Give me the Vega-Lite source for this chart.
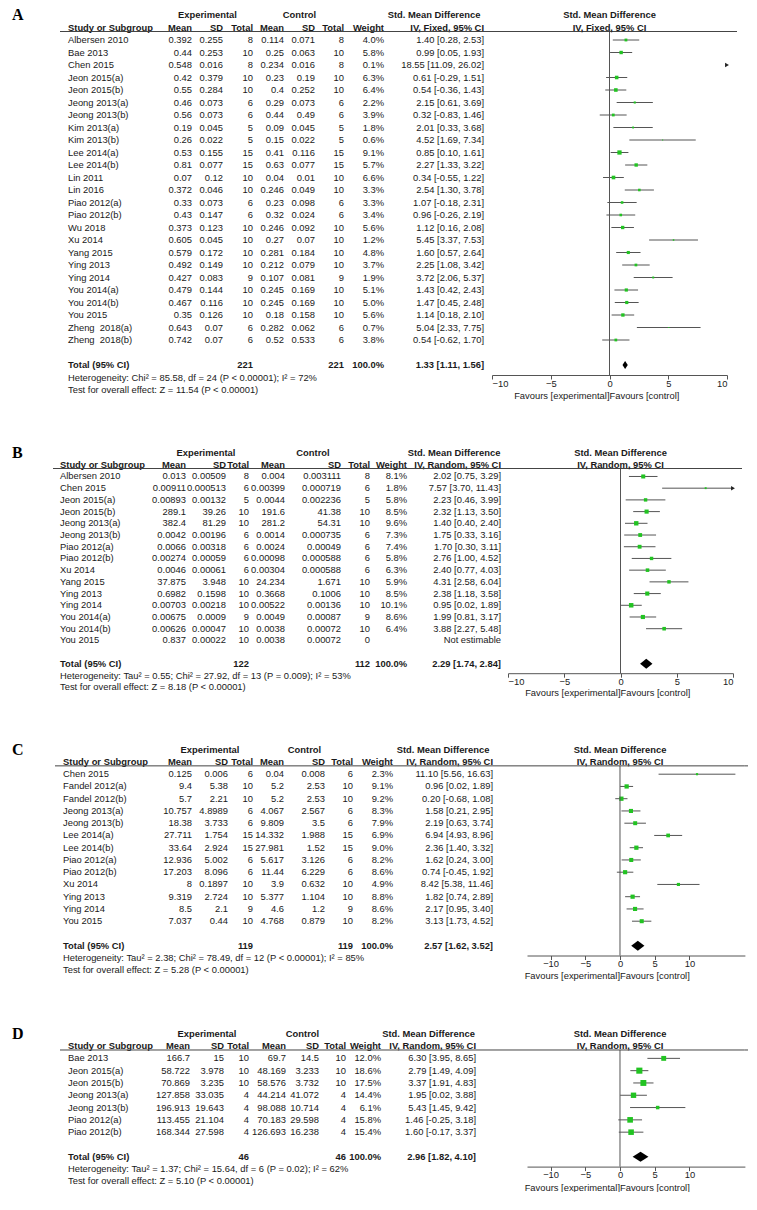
{
"$schema": "https://vega.github.io/schema/vega-lite/v6.json",
"background": "white",
"padding": {"left": 12, "top": 0, "right": 0, "bottom": 0},
"bounds": "full",
"spacing": 38,
"datasets": {
"one": [{}],
"A": [
{"row":-2,"kind":"group","lab":"A","sde":"Experimental","sdc":"Control","ci":"Std. Mean Difference","forest":"Std. Mean Difference"},
{"row":-1,"kind":"head","study":"Study or Subgroup","me":"Mean","sde":"SD","ne":"Total","mc":"Mean","sdc":"SD","nc":"Total","w":"Weight","ci":"IV, Fixed, 95% CI","forest":"IV, Fixed, 95% CI"},
{"row":0,"kind":"study","study":"Albersen 2010","me":0.392,"sde":0.255,"ne":8,"mc":0.114,"sdc":0.071,"nc":8,"w":0.040,"ci":"1.40 [0.28, 2.53]","est":1.40,"lo":0.28,"hi":2.53},
{"row":1,"kind":"study","study":"Bae 2013","me":0.44,"sde":0.253,"ne":10,"mc":0.25,"sdc":0.063,"nc":10,"w":0.058,"ci":"0.99 [0.05, 1.93]","est":0.99,"lo":0.05,"hi":1.93},
{"row":2,"kind":"study","study":"Chen 2015","me":0.548,"sde":0.016,"ne":8,"mc":0.234,"sdc":0.016,"nc":8,"w":0.001,"ci":"18.55 [11.09, 26.02]","est":18.55,"lo":11.09,"hi":26.02},
{"row":3,"kind":"study","study":"Jeon 2015(a)","me":0.42,"sde":0.379,"ne":10,"mc":0.23,"sdc":0.19,"nc":10,"w":0.063,"ci":"0.61 [-0.29, 1.51]","est":0.61,"lo":-0.29,"hi":1.51},
{"row":4,"kind":"study","study":"Jeon 2015(b)","me":0.55,"sde":0.284,"ne":10,"mc":0.4,"sdc":0.252,"nc":10,"w":0.064,"ci":"0.54 [-0.36, 1.43]","est":0.54,"lo":-0.36,"hi":1.43},
{"row":5,"kind":"study","study":"Jeong 2013(a)","me":0.46,"sde":0.073,"ne":6,"mc":0.29,"sdc":0.073,"nc":6,"w":0.022,"ci":"2.15 [0.61, 3.69]","est":2.15,"lo":0.61,"hi":3.69},
{"row":6,"kind":"study","study":"Jeong 2013(b)","me":0.56,"sde":0.073,"ne":6,"mc":0.44,"sdc":0.49,"nc":6,"w":0.039,"ci":"0.32 [-0.83, 1.46]","est":0.32,"lo":-0.83,"hi":1.46},
{"row":7,"kind":"study","study":"Kim 2013(a)","me":0.19,"sde":0.045,"ne":5,"mc":0.09,"sdc":0.045,"nc":5,"w":0.018,"ci":"2.01 [0.33, 3.68]","est":2.01,"lo":0.33,"hi":3.68},
{"row":8,"kind":"study","study":"Kim 2013(b)","me":0.26,"sde":0.022,"ne":5,"mc":0.15,"sdc":0.022,"nc":5,"w":0.006,"ci":"4.52 [1.69, 7.34]","est":4.52,"lo":1.69,"hi":7.34},
{"row":9,"kind":"study","study":"Lee 2014(a)","me":0.53,"sde":0.155,"ne":15,"mc":0.41,"sdc":0.116,"nc":15,"w":0.091,"ci":"0.85 [0.10, 1.61]","est":0.85,"lo":0.10,"hi":1.61},
{"row":10,"kind":"study","study":"Lee 2014(b)","me":0.81,"sde":0.077,"ne":15,"mc":0.63,"sdc":0.077,"nc":15,"w":0.057,"ci":"2.27 [1.33, 3.22]","est":2.27,"lo":1.33,"hi":3.22},
{"row":11,"kind":"study","study":"Lin 2011","me":0.07,"sde":0.12,"ne":10,"mc":0.04,"sdc":0.01,"nc":10,"w":0.066,"ci":"0.34 [-0.55, 1.22]","est":0.34,"lo":-0.55,"hi":1.22},
{"row":12,"kind":"study","study":"Lin 2016","me":0.372,"sde":0.046,"ne":10,"mc":0.246,"sdc":0.049,"nc":10,"w":0.033,"ci":"2.54 [1.30, 3.78]","est":2.54,"lo":1.30,"hi":3.78},
{"row":13,"kind":"study","study":"Piao 2012(a)","me":0.33,"sde":0.073,"ne":6,"mc":0.23,"sdc":0.098,"nc":6,"w":0.033,"ci":"1.07 [-0.18, 2.31]","est":1.07,"lo":-0.18,"hi":2.31},
{"row":14,"kind":"study","study":"Piao 2012(b)","me":0.43,"sde":0.147,"ne":6,"mc":0.32,"sdc":0.024,"nc":6,"w":0.034,"ci":"0.96 [-0.26, 2.19]","est":0.96,"lo":-0.26,"hi":2.19},
{"row":15,"kind":"study","study":"Wu 2018","me":0.373,"sde":0.123,"ne":10,"mc":0.246,"sdc":0.092,"nc":10,"w":0.056,"ci":"1.12 [0.16, 2.08]","est":1.12,"lo":0.16,"hi":2.08},
{"row":16,"kind":"study","study":"Xu 2014","me":0.605,"sde":0.045,"ne":10,"mc":0.27,"sdc":0.07,"nc":10,"w":0.012,"ci":"5.45 [3.37, 7.53]","est":5.45,"lo":3.37,"hi":7.53},
{"row":17,"kind":"study","study":"Yang 2015","me":0.579,"sde":0.172,"ne":10,"mc":0.281,"sdc":0.184,"nc":10,"w":0.048,"ci":"1.60 [0.57, 2.64]","est":1.60,"lo":0.57,"hi":2.64},
{"row":18,"kind":"study","study":"Ying 2013","me":0.492,"sde":0.149,"ne":10,"mc":0.212,"sdc":0.079,"nc":10,"w":0.037,"ci":"2.25 [1.08, 3.42]","est":2.25,"lo":1.08,"hi":3.42},
{"row":19,"kind":"study","study":"Ying 2014","me":0.427,"sde":0.083,"ne":9,"mc":0.107,"sdc":0.081,"nc":9,"w":0.019,"ci":"3.72 [2.06, 5.37]","est":3.72,"lo":2.06,"hi":5.37},
{"row":20,"kind":"study","study":"You 2014(a)","me":0.479,"sde":0.144,"ne":10,"mc":0.245,"sdc":0.169,"nc":10,"w":0.051,"ci":"1.43 [0.42, 2.43]","est":1.43,"lo":0.42,"hi":2.43},
{"row":21,"kind":"study","study":"You 2014(b)","me":0.467,"sde":0.116,"ne":10,"mc":0.245,"sdc":0.169,"nc":10,"w":0.050,"ci":"1.47 [0.45, 2.48]","est":1.47,"lo":0.45,"hi":2.48},
{"row":22,"kind":"study","study":"You 2015","me":0.35,"sde":0.126,"ne":10,"mc":0.18,"sdc":0.158,"nc":10,"w":0.056,"ci":"1.14 [0.18, 2.10]","est":1.14,"lo":0.18,"hi":2.10},
{"row":23,"kind":"study","study":"Zheng\u00a0\u00a02018(a)","me":0.643,"sde":0.07,"ne":6,"mc":0.282,"sdc":0.062,"nc":6,"w":0.007,"ci":"5.04 [2.33, 7.75]","est":5.04,"lo":2.33,"hi":7.75},
{"row":24,"kind":"study","study":"Zheng\u00a0\u00a02018(b)","me":0.742,"sde":0.07,"ne":6,"mc":0.52,"sdc":0.533,"nc":6,"w":0.038,"ci":"0.54 [-0.62, 1.70]","est":0.54,"lo":-0.62,"hi":1.70},
{"row":26,"kind":"total","study":"Total (95% CI)","ne":221,"nc":221,"w":1.0,"ci":"1.33 [1.11, 1.56]","est":1.33,"lo":1.11,"hi":1.56},
{"row":27,"kind":"note","study":"Heterogeneity: Chi² = 85.58, df = 24 (P < 0.00001); I² = 72%"},
{"row":28,"kind":"note","study":"Test for overall effect: Z = 11.54 (P < 0.00001)"}
],
"B": [
{"row":-2,"kind":"group","lab":"B","sde":"Experimental","sdc":"Control","ci":"Std. Mean Difference","forest":"Std. Mean Difference"},
{"row":-1,"kind":"head","study":"Study or Subgroup","me":"Mean","sde":"SD","ne":"Total","mc":"Mean","sdc":"SD","nc":"Total","w":"Weight","ci":"IV, Random, 95% CI","forest":"IV, Random, 95% CI"},
{"row":0,"kind":"study","study":"Albersen 2010","me":0.013,"sde":0.00509,"ne":8,"mc":0.004,"sdc":0.003111,"nc":8,"w":0.081,"ci":"2.02 [0.75, 3.29]","est":2.02,"lo":0.75,"hi":3.29},
{"row":1,"kind":"study","study":"Chen 2015","me":0.00911,"sde":0.000513,"ne":6,"mc":0.00399,"sdc":0.000719,"nc":6,"w":0.018,"ci":"7.57 [3.70, 11.43]","est":7.57,"lo":3.70,"hi":11.43},
{"row":2,"kind":"study","study":"Jeon 2015(a)","me":0.00893,"sde":0.00132,"ne":5,"mc":0.0044,"sdc":0.002236,"nc":5,"w":0.058,"ci":"2.23 [0.46, 3.99]","est":2.23,"lo":0.46,"hi":3.99},
{"row":3,"kind":"study","study":"Jeon 2015(b)","me":289.1,"sde":39.26,"ne":10,"mc":191.6,"sdc":41.38,"nc":10,"w":0.085,"ci":"2.32 [1.13, 3.50]","est":2.32,"lo":1.13,"hi":3.50},
{"row":4,"kind":"study","study":"Jeong 2013(a)","me":382.4,"sde":81.29,"ne":10,"mc":281.2,"sdc":54.31,"nc":10,"w":0.096,"ci":"1.40 [0.40, 2.40]","est":1.40,"lo":0.40,"hi":2.40},
{"row":5,"kind":"study","study":"Jeong 2013(b)","me":0.0042,"sde":0.00196,"ne":6,"mc":0.0014,"sdc":0.000735,"nc":6,"w":0.073,"ci":"1.75 [0.33, 3.16]","est":1.75,"lo":0.33,"hi":3.16},
{"row":6,"kind":"study","study":"Piao 2012(a)","me":0.0066,"sde":0.00318,"ne":6,"mc":0.0024,"sdc":0.00049,"nc":6,"w":0.074,"ci":"1.70 [0.30, 3.11]","est":1.70,"lo":0.30,"hi":3.11},
{"row":7,"kind":"study","study":"Piao 2012(b)","me":0.00274,"sde":0.00059,"ne":6,"mc":0.00098,"sdc":0.000588,"nc":6,"w":0.058,"ci":"2.76 [1.00, 4.52]","est":2.76,"lo":1.00,"hi":4.52},
{"row":8,"kind":"study","study":"Xu 2014","me":0.0046,"sde":0.00061,"ne":6,"mc":0.00304,"sdc":0.000588,"nc":6,"w":0.063,"ci":"2.40 [0.77, 4.03]","est":2.40,"lo":0.77,"hi":4.03},
{"row":9,"kind":"study","study":"Yang 2015","me":37.875,"sde":3.948,"ne":10,"mc":24.234,"sdc":1.671,"nc":10,"w":0.059,"ci":"4.31 [2.58, 6.04]","est":4.31,"lo":2.58,"hi":6.04},
{"row":10,"kind":"study","study":"Ying 2013","me":0.6982,"sde":0.1598,"ne":10,"mc":0.3668,"sdc":0.1006,"nc":10,"w":0.085,"ci":"2.38 [1.18, 3.58]","est":2.38,"lo":1.18,"hi":3.58},
{"row":11,"kind":"study","study":"Ying 2014","me":0.00703,"sde":0.00218,"ne":10,"mc":0.00522,"sdc":0.00136,"nc":10,"w":0.101,"ci":"0.95 [0.02, 1.89]","est":0.95,"lo":0.02,"hi":1.89},
{"row":12,"kind":"study","study":"You 2014(a)","me":0.00675,"sde":0.0009,"ne":9,"mc":0.0049,"sdc":0.00087,"nc":9,"w":0.086,"ci":"1.99 [0.81, 3.17]","est":1.99,"lo":0.81,"hi":3.17},
{"row":13,"kind":"study","study":"You 2014(b)","me":0.00626,"sde":0.00047,"ne":10,"mc":0.0038,"sdc":0.00072,"nc":10,"w":0.064,"ci":"3.88 [2.27, 5.48]","est":3.88,"lo":2.27,"hi":5.48},
{"row":14,"kind":"study","study":"You 2015","me":0.837,"sde":0.00022,"ne":10,"mc":0.0038,"sdc":0.00072,"nc":0,"ci":"Not estimable"},
{"row":16,"kind":"total","study":"Total (95% CI)","ne":122,"nc":112,"w":1.0,"ci":"2.29 [1.74, 2.84]","est":2.29,"lo":1.74,"hi":2.84},
{"row":17,"kind":"note","study":"Heterogeneity: Tau² = 0.55; Chi² = 27.92, df = 13 (P = 0.009); I² = 53%"},
{"row":18,"kind":"note","study":"Test for overall effect: Z = 8.18 (P < 0.00001)"}
],
"C": [
{"row":-2,"kind":"group","lab":"C","sde":"Experimental","sdc":"Control","ci":"Std. Mean Difference","forest":"Std. Mean Difference"},
{"row":-1,"kind":"head","study":"Study or Subgroup","me":"Mean","sde":"SD","ne":"Total","mc":"Mean","sdc":"SD","nc":"Total","w":"Weight","ci":"IV, Random, 95% CI","forest":"IV, Random, 95% CI"},
{"row":0,"kind":"study","study":"Chen 2015","me":0.125,"sde":0.006,"ne":6,"mc":0.04,"sdc":0.008,"nc":6,"w":0.023,"ci":"11.10 [5.56, 16.63]","est":11.10,"lo":5.56,"hi":16.63},
{"row":1,"kind":"study","study":"Fandel 2012(a)","me":9.4,"sde":5.38,"ne":10,"mc":5.2,"sdc":2.53,"nc":10,"w":0.091,"ci":"0.96 [0.02, 1.89]","est":0.96,"lo":0.02,"hi":1.89},
{"row":2,"kind":"study","study":"Fandel 2012(b)","me":5.7,"sde":2.21,"ne":10,"mc":5.2,"sdc":2.53,"nc":10,"w":0.092,"ci":"0.20 [-0.68, 1.08]","est":0.20,"lo":-0.68,"hi":1.08},
{"row":3,"kind":"study","study":"Jeong 2013(a)","me":10.757,"sde":4.8989,"ne":6,"mc":4.067,"sdc":2.567,"nc":6,"w":0.083,"ci":"1.58 [0.21, 2.95]","est":1.58,"lo":0.21,"hi":2.95},
{"row":4,"kind":"study","study":"Jeong 2013(b)","me":18.38,"sde":3.733,"ne":6,"mc":9.809,"sdc":3.5,"nc":6,"w":0.079,"ci":"2.19 [0.63, 3.74]","est":2.19,"lo":0.63,"hi":3.74},
{"row":5,"kind":"study","study":"Lee 2014(a)","me":27.711,"sde":1.754,"ne":15,"mc":14.332,"sdc":1.988,"nc":15,"w":0.069,"ci":"6.94 [4.93, 8.96]","est":6.94,"lo":4.93,"hi":8.96},
{"row":6,"kind":"study","study":"Lee 2014(b)","me":33.64,"sde":2.924,"ne":15,"mc":27.981,"sdc":1.52,"nc":15,"w":0.090,"ci":"2.36 [1.40, 3.32]","est":2.36,"lo":1.40,"hi":3.32},
{"row":7,"kind":"study","study":"Piao 2012(a)","me":12.936,"sde":5.002,"ne":6,"mc":5.617,"sdc":3.126,"nc":6,"w":0.082,"ci":"1.62 [0.24, 3.00]","est":1.62,"lo":0.24,"hi":3.00},
{"row":8,"kind":"study","study":"Piao 2012(b)","me":17.203,"sde":8.096,"ne":6,"mc":11.44,"sdc":6.229,"nc":6,"w":0.086,"ci":"0.74 [-0.45, 1.92]","est":0.74,"lo":-0.45,"hi":1.92},
{"row":9,"kind":"study","study":"Xu 2014","me":8,"sde":0.1897,"ne":10,"mc":3.9,"sdc":0.632,"nc":10,"w":0.049,"ci":"8.42 [5.38, 11.46]","est":8.42,"lo":5.38,"hi":11.46},
{"row":10,"kind":"study","study":"Ying 2013","me":9.319,"sde":2.724,"ne":10,"mc":5.377,"sdc":1.104,"nc":10,"w":0.088,"ci":"1.82 [0.74, 2.89]","est":1.82,"lo":0.74,"hi":2.89},
{"row":11,"kind":"study","study":"Ying 2014","me":8.5,"sde":2.1,"ne":9,"mc":4.6,"sdc":1.2,"nc":9,"w":0.086,"ci":"2.17 [0.95, 3.40]","est":2.17,"lo":0.95,"hi":3.40},
{"row":12,"kind":"study","study":"You 2015","me":7.037,"sde":0.44,"ne":10,"mc":4.768,"sdc":0.879,"nc":10,"w":0.082,"ci":"3.13 [1.73, 4.52]","est":3.13,"lo":1.73,"hi":4.52},
{"row":14,"kind":"total","study":"Total (95% CI)","ne":119,"nc":119,"w":1.0,"ci":"2.57 [1.62, 3.52]","est":2.57,"lo":1.62,"hi":3.52},
{"row":15,"kind":"note","study":"Heterogeneity: Tau² = 2.38; Chi² = 78.49, df = 12 (P < 0.00001); I² = 85%"},
{"row":16,"kind":"note","study":"Test for overall effect: Z = 5.28 (P < 0.00001)"}
],
"D": [
{"row":-2,"kind":"group","lab":"D","sde":"Experimental","sdc":"Control","ci":"Std. Mean Difference","forest":"Std. Mean Difference"},
{"row":-1,"kind":"head","study":"Study or Subgroup","me":"Mean","sde":"SD","ne":"Total","mc":"Mean","sdc":"SD","nc":"Total","w":"Weight","ci":"IV, Random, 95% CI","forest":"IV, Random, 95% CI"},
{"row":0,"kind":"study","study":"Bae 2013","me":166.7,"sde":15,"ne":10,"mc":69.7,"sdc":14.5,"nc":10,"w":0.120,"ci":"6.30 [3.95, 8.65]","est":6.30,"lo":3.95,"hi":8.65},
{"row":1,"kind":"study","study":"Jeon 2015(a)","me":58.722,"sde":3.978,"ne":10,"mc":48.169,"sdc":3.233,"nc":10,"w":0.186,"ci":"2.79 [1.49, 4.09]","est":2.79,"lo":1.49,"hi":4.09},
{"row":2,"kind":"study","study":"Jeon 2015(b)","me":70.869,"sde":3.235,"ne":10,"mc":58.576,"sdc":3.732,"nc":10,"w":0.175,"ci":"3.37 [1.91, 4.83]","est":3.37,"lo":1.91,"hi":4.83},
{"row":3,"kind":"study","study":"Jeong 2013(a)","me":127.858,"sde":33.035,"ne":4,"mc":44.214,"sdc":41.072,"nc":4,"w":0.144,"ci":"1.95 [0.02, 3.88]","est":1.95,"lo":0.02,"hi":3.88},
{"row":4,"kind":"study","study":"Jeong 2013(b)","me":196.913,"sde":19.643,"ne":4,"mc":98.088,"sdc":10.714,"nc":4,"w":0.061,"ci":"5.43 [1.45, 9.42]","est":5.43,"lo":1.45,"hi":9.42},
{"row":5,"kind":"study","study":"Piao 2012(a)","me":113.455,"sde":21.104,"ne":4,"mc":70.183,"sdc":29.598,"nc":4,"w":0.158,"ci":"1.46 [-0.25, 3.18]","est":1.46,"lo":-0.25,"hi":3.18},
{"row":6,"kind":"study","study":"Piao 2012(b)","me":168.344,"sde":27.598,"ne":4,"mc":126.693,"sdc":16.238,"nc":4,"w":0.154,"ci":"1.60 [-0.17, 3.37]","est":1.60,"lo":-0.17,"hi":3.37},
{"row":8,"kind":"total","study":"Total (95% CI)","ne":46,"nc":46,"w":1.0,"ci":"2.96 [1.82, 4.10]","est":2.96,"lo":1.82,"hi":4.10},
{"row":9,"kind":"note","study":"Heterogeneity: Tau² = 1.37; Chi² = 15.64, df = 6 (P = 0.02); I² = 62%"},
{"row":10,"kind":"note","study":"Test for overall effect: Z = 5.10 (P < 0.00001)"}
]
},
"vconcat": [
{"bounds":"flush","spacing":0,"hconcat":[
{"width":48,"height":397.5,"data":{"name":"A"},"transform":[{"filter":"isValid(datum.lab)"}],"mark":{"type":"text","align":"left","font":"Liberation Serif","fontSize":16,"fontWeight":"bold","color":"#000"},"encoding":{"x":{"datum":"l","type":"nominal","scale":{"type":"point","domain":["l","c","r"],"padding":0},"axis":null},"y":{"field":"row","type":"quantitative","scale":{"domain":[-3.2,28.6],"reverse":true,"nice":false,"zero":false},"axis":null},"text":{"field":"lab","type":"nominal"}}},
{"width":8,"height":397.5,"data":{"name":"one"},"mark":"rule","encoding":{"y":{"datum":-0.68,"type":"quantitative","scale":{"domain":[-3.2,28.6],"reverse":true,"nice":false,"zero":false},"axis":null}}},
{"width":92,"height":397.5,"data":{"name":"A"},"encoding":{"y":{"field":"row","type":"quantitative","scale":{"domain":[-3.2,28.6],"reverse":true,"nice":false,"zero":false},"axis":null}},"layer":[
 {"transform":[{"filter":"isValid(datum.study)"}],"mark":{"type":"text","align":"left","fontWeight":{"expr":"datum.kind == 'study' || datum.kind == 'note' ? 'normal' : 'bold'"}},"encoding":{"x":{"datum":"l","type":"nominal","scale":{"type":"point","domain":["l","c","r"],"padding":0},"axis":null},"text":{"field":"study","type":"nominal"}}},
 {"transform":[{"filter":"datum.kind == 'head'"}],"mark":"rule","encoding":{"y":{"datum":-0.68,"type":"quantitative","scale":{"domain":[-3.2,28.6],"reverse":true,"nice":false,"zero":false},"axis":null}}}]},
{"width":32,"height":397.5,"data":{"name":"A"},"encoding":{"y":{"field":"row","type":"quantitative","scale":{"domain":[-3.2,28.6],"reverse":true,"nice":false,"zero":false},"axis":null}},"layer":[
 {"transform":[{"filter":"isValid(datum.me) && datum.kind != 'group'"}],"mark":{"type":"text","align":"right","fontWeight":{"expr":"datum.kind == 'study' || datum.kind == 'note' ? 'normal' : 'bold'"}},"encoding":{"x":{"datum":"r","type":"nominal","scale":{"type":"point","domain":["l","c","r"],"padding":0},"axis":null},"text":{"field":"me","type":"nominal"}}},
 {"transform":[{"filter":"datum.kind == 'head'"}],"mark":"rule","encoding":{"y":{"datum":-0.68,"type":"quantitative","scale":{"domain":[-3.2,28.6],"reverse":true,"nice":false,"zero":false},"axis":null}}}]},
{"width":31,"height":397.5,"data":{"name":"A"},"encoding":{"y":{"field":"row","type":"quantitative","scale":{"domain":[-3.2,28.6],"reverse":true,"nice":false,"zero":false},"axis":null}},"layer":[
 {"transform":[{"filter":"isValid(datum.sde) && datum.kind != 'group'"}],"mark":{"type":"text","align":"right","fontWeight":{"expr":"datum.kind == 'study' || datum.kind == 'note' ? 'normal' : 'bold'"}},"encoding":{"x":{"datum":"r","type":"nominal","scale":{"type":"point","domain":["l","c","r"],"padding":0},"axis":null},"text":{"field":"sde","type":"nominal"}}},
 {"transform":[{"filter":"datum.kind == 'group'"}],"mark":{"type":"text","align":"center","fontWeight":"bold"},"encoding":{"x":{"datum":"c","type":"nominal","scale":{"type":"point","domain":["l","c","r"],"padding":0},"axis":null},"text":{"field":"sde","type":"nominal"}}},
 {"transform":[{"filter":"datum.kind == 'head'"}],"mark":"rule","encoding":{"y":{"datum":-0.68,"type":"quantitative","scale":{"domain":[-3.2,28.6],"reverse":true,"nice":false,"zero":false},"axis":null}}}]},
{"width":30,"height":397.5,"data":{"name":"A"},"encoding":{"y":{"field":"row","type":"quantitative","scale":{"domain":[-3.2,28.6],"reverse":true,"nice":false,"zero":false},"axis":null}},"layer":[
 {"transform":[{"filter":"isValid(datum.ne) && datum.kind != 'group'"}],"mark":{"type":"text","align":"right","fontWeight":{"expr":"datum.kind == 'study' || datum.kind == 'note' ? 'normal' : 'bold'"}},"encoding":{"x":{"datum":"r","type":"nominal","scale":{"type":"point","domain":["l","c","r"],"padding":0},"axis":null},"text":{"field":"ne","type":"nominal"}}},
 {"transform":[{"filter":"datum.kind == 'head'"}],"mark":"rule","encoding":{"y":{"datum":-0.68,"type":"quantitative","scale":{"domain":[-3.2,28.6],"reverse":true,"nice":false,"zero":false},"axis":null}}}]},
{"width":31,"height":397.5,"data":{"name":"A"},"encoding":{"y":{"field":"row","type":"quantitative","scale":{"domain":[-3.2,28.6],"reverse":true,"nice":false,"zero":false},"axis":null}},"layer":[
 {"transform":[{"filter":"isValid(datum.mc) && datum.kind != 'group'"}],"mark":{"type":"text","align":"right","fontWeight":{"expr":"datum.kind == 'study' || datum.kind == 'note' ? 'normal' : 'bold'"}},"encoding":{"x":{"datum":"r","type":"nominal","scale":{"type":"point","domain":["l","c","r"],"padding":0},"axis":null},"text":{"field":"mc","type":"nominal"}}},
 {"transform":[{"filter":"datum.kind == 'head'"}],"mark":"rule","encoding":{"y":{"datum":-0.68,"type":"quantitative","scale":{"domain":[-3.2,28.6],"reverse":true,"nice":false,"zero":false},"axis":null}}}]},
{"width":31,"height":397.5,"data":{"name":"A"},"encoding":{"y":{"field":"row","type":"quantitative","scale":{"domain":[-3.2,28.6],"reverse":true,"nice":false,"zero":false},"axis":null}},"layer":[
 {"transform":[{"filter":"isValid(datum.sdc) && datum.kind != 'group'"}],"mark":{"type":"text","align":"right","fontWeight":{"expr":"datum.kind == 'study' || datum.kind == 'note' ? 'normal' : 'bold'"}},"encoding":{"x":{"datum":"r","type":"nominal","scale":{"type":"point","domain":["l","c","r"],"padding":0},"axis":null},"text":{"field":"sdc","type":"nominal"}}},
 {"transform":[{"filter":"datum.kind == 'group'"}],"mark":{"type":"text","align":"center","fontWeight":"bold"},"encoding":{"x":{"datum":"c","type":"nominal","scale":{"type":"point","domain":["l","c","r"],"padding":0},"axis":null},"text":{"field":"sdc","type":"nominal"}}},
 {"transform":[{"filter":"datum.kind == 'head'"}],"mark":"rule","encoding":{"y":{"datum":-0.68,"type":"quantitative","scale":{"domain":[-3.2,28.6],"reverse":true,"nice":false,"zero":false},"axis":null}}}]},
{"width":29,"height":397.5,"data":{"name":"A"},"encoding":{"y":{"field":"row","type":"quantitative","scale":{"domain":[-3.2,28.6],"reverse":true,"nice":false,"zero":false},"axis":null}},"layer":[
 {"transform":[{"filter":"isValid(datum.nc) && datum.kind != 'group'"}],"mark":{"type":"text","align":"right","fontWeight":{"expr":"datum.kind == 'study' || datum.kind == 'note' ? 'normal' : 'bold'"}},"encoding":{"x":{"datum":"r","type":"nominal","scale":{"type":"point","domain":["l","c","r"],"padding":0},"axis":null},"text":{"field":"nc","type":"nominal"}}},
 {"transform":[{"filter":"datum.kind == 'head'"}],"mark":"rule","encoding":{"y":{"datum":-0.68,"type":"quantitative","scale":{"domain":[-3.2,28.6],"reverse":true,"nice":false,"zero":false},"axis":null}}}]},
{"width":40,"height":397.5,"data":{"name":"A"},"encoding":{"y":{"field":"row","type":"quantitative","scale":{"domain":[-3.2,28.6],"reverse":true,"nice":false,"zero":false},"axis":null}},"layer":[
 {"transform":[{"filter":"(datum.kind == 'study' || datum.kind == 'total') && isValid(datum.w)"}],"mark":{"type":"text","align":"right","fontWeight":{"expr":"datum.kind == 'study' || datum.kind == 'note' ? 'normal' : 'bold'"}},"encoding":{"x":{"datum":"r","type":"nominal","scale":{"type":"point","domain":["l","c","r"],"padding":0},"axis":null},"text":{"field":"w","type":"quantitative","format":".1%"}}},
 {"transform":[{"filter":"datum.kind == 'head'"}],"mark":{"type":"text","align":"right","fontWeight":"bold"},"encoding":{"x":{"datum":"r","type":"nominal","scale":{"type":"point","domain":["l","c","r"],"padding":0},"axis":null},"text":{"field":"w","type":"nominal"}}},
 {"transform":[{"filter":"datum.kind == 'head'"}],"mark":"rule","encoding":{"y":{"datum":-0.68,"type":"quantitative","scale":{"domain":[-3.2,28.6],"reverse":true,"nice":false,"zero":false},"axis":null}}}]},
{"width":100,"height":397.5,"data":{"name":"A"},"encoding":{"y":{"field":"row","type":"quantitative","scale":{"domain":[-3.2,28.6],"reverse":true,"nice":false,"zero":false},"axis":null}},"layer":[
 {"transform":[{"filter":"isValid(datum.ci) && datum.kind != 'group'"}],"mark":{"type":"text","align":"right","fontWeight":{"expr":"datum.kind == 'study' || datum.kind == 'note' ? 'normal' : 'bold'"}},"encoding":{"x":{"datum":"r","type":"nominal","scale":{"type":"point","domain":["l","c","r"],"padding":0},"axis":null},"text":{"field":"ci","type":"nominal"}}},
 {"transform":[{"filter":"datum.kind == 'group'"}],"mark":{"type":"text","align":"center","fontWeight":"bold"},"encoding":{"x":{"datum":"c","type":"nominal","scale":{"type":"point","domain":["l","c","r"],"padding":0},"axis":null},"text":{"field":"ci","type":"nominal"}}},
 {"transform":[{"filter":"datum.kind == 'head'"}],"mark":"rule","encoding":{"y":{"datum":-0.68,"type":"quantitative","scale":{"domain":[-3.2,28.6],"reverse":true,"nice":false,"zero":false},"axis":null}}}]},
{"width":8,"height":397.5,"data":{"name":"one"},"mark":"rule","encoding":{"y":{"datum":-0.68,"type":"quantitative","scale":{"domain":[-3.2,28.6],"reverse":true,"nice":false,"zero":false},"axis":null}}},
{"width":235,"height":375,"data":{"name":"A"},"encoding":{"y":{"field":"row","type":"quantitative","scale":{"domain":[-3.2,26.8],"reverse":true,"nice":false,"zero":false},"axis":null}},"layer":[
 {"transform":[{"filter":"datum.kind == 'study' && isValid(datum.lo)"}],"mark":{"type":"rule","color":"#555"},"encoding":{"x":{"field":"lo","type":"quantitative","scale":{"domain":[-10,10],"clamp":true,"nice":false,"zero":false},"axis":{"values":[-10,-5,0,5,10],"title":null}},"x2":{"field":"hi"}}},
 {"transform":[{"filter":"datum.kind == 'study' && isValid(datum.est) && datum.est <= 10"}],"mark":{"type":"point","shape":"square","filled":true,"opacity":1,"color":"#22c322","strokeWidth":0},"encoding":{"x":{"field":"est","type":"quantitative","scale":{"domain":[-10,10],"clamp":true,"nice":false,"zero":false},"axis":{"values":[-10,-5,0,5,10],"title":null}},"size":{"field":"w","type":"quantitative","scale":{"domain":[0,0.2],"range":[0,40]},"legend":null}}},
 {"transform":[{"filter":"datum.kind == 'study' && datum.hi > 10"}],"mark":{"type":"point","shape":"triangle-right","filled":true,"opacity":1,"color":"#222","size":20,"strokeWidth":0},"encoding":{"x":{"field":"hi","type":"quantitative","scale":{"domain":[-10,10],"clamp":true,"nice":false,"zero":false},"axis":{"values":[-10,-5,0,5,10],"title":null}}}},
 {"transform":[{"filter":"datum.kind == 'total'"}],"mark":{"type":"point","shape":"M0,-1L0.66,0L0,1L-0.66,0Z","filled":true,"opacity":1,"color":"#000","size":64,"strokeWidth":0},"encoding":{"x":{"field":"est","type":"quantitative","scale":{"domain":[-10,10],"clamp":true,"nice":false,"zero":false},"axis":{"values":[-10,-5,0,5,10],"title":null}}}},
 {"transform":[{"filter":"datum.kind == 'head'"}],"mark":{"type":"rule","color":"#555"},"encoding":{"x":{"datum":0,"type":"quantitative","scale":{"domain":[-10,10],"clamp":true,"nice":false,"zero":false},"axis":{"values":[-10,-5,0,5,10],"title":null}},"y":{"datum":-0.68,"type":"quantitative","scale":{"domain":[-3.2,26.8],"reverse":true,"nice":false,"zero":false},"axis":null},"y2":{"datum":26.8}}},
 {"transform":[{"filter":"datum.kind == 'head'"}],"mark":"rule","encoding":{"y":{"datum":-0.68,"type":"quantitative","scale":{"domain":[-3.2,26.8],"reverse":true,"nice":false,"zero":false},"axis":null}}},
 {"transform":[{"filter":"isValid(datum.forest)"}],"mark":{"type":"text","align":"center","fontWeight":"bold"},"encoding":{"x":{"datum":0,"type":"quantitative","scale":{"domain":[-10,10],"clamp":true,"nice":false,"zero":false},"axis":{"values":[-10,-5,0,5,10],"title":null}},"text":{"field":"forest","type":"nominal"}}},
 {"transform":[{"filter":"datum.kind == 'head'"}],"mark":{"type":"text","align":"right","text":"Favours [experimental]\u00a0"},"encoding":{"x":{"datum":0,"type":"quantitative","scale":{"domain":[-10,10],"clamp":true,"nice":false,"zero":false},"axis":{"values":[-10,-5,0,5,10],"title":null}},"y":{"datum":28.48,"type":"quantitative","scale":{"domain":[-3.2,26.8],"reverse":true,"nice":false,"zero":false},"axis":null}}},
 {"transform":[{"filter":"datum.kind == 'head'"}],"mark":{"type":"text","align":"left","text":"\u00a0\u00a0Favours [control]"},"encoding":{"x":{"datum":0,"type":"quantitative","scale":{"domain":[-10,10],"clamp":true,"nice":false,"zero":false},"axis":{"values":[-10,-5,0,5,10],"title":null}},"y":{"datum":28.48,"type":"quantitative","scale":{"domain":[-3.2,26.8],"reverse":true,"nice":false,"zero":false},"axis":null}}}]},
{"width":10,"height":397.5,"data":{"name":"one"},"mark":"rule","encoding":{"y":{"datum":-0.68,"type":"quantitative","scale":{"domain":[-3.2,28.6],"reverse":true,"nice":false,"zero":false},"axis":null}}}
]},
{"bounds":"flush","spacing":0,"hconcat":[
{"width":41,"height":255.3,"data":{"name":"B"},"transform":[{"filter":"isValid(datum.lab)"}],"mark":{"type":"text","align":"left","font":"Liberation Serif","fontSize":16,"fontWeight":"bold","color":"#000"},"encoding":{"x":{"datum":"l","type":"nominal","scale":{"type":"point","domain":["l","c","r"],"padding":0},"axis":null},"y":{"field":"row","type":"quantitative","scale":{"domain":[-3.2,18.6],"reverse":true,"nice":false,"zero":false},"axis":null},"text":{"field":"lab","type":"nominal"}}},
{"width":7,"height":255.3,"data":{"name":"one"},"mark":"rule","encoding":{"y":{"datum":-0.68,"type":"quantitative","scale":{"domain":[-3.2,18.6],"reverse":true,"nice":false,"zero":false},"axis":null}}},
{"width":90,"height":255.3,"data":{"name":"B"},"encoding":{"y":{"field":"row","type":"quantitative","scale":{"domain":[-3.2,18.6],"reverse":true,"nice":false,"zero":false},"axis":null}},"layer":[
 {"transform":[{"filter":"isValid(datum.study)"}],"mark":{"type":"text","style":"nb","align":"left","fontWeight":{"expr":"datum.kind == 'study' || datum.kind == 'note' ? 'normal' : 'bold'"}},"encoding":{"x":{"datum":"l","type":"nominal","scale":{"type":"point","domain":["l","c","r"],"padding":0},"axis":null},"text":{"field":"study","type":"nominal"}}},
 {"transform":[{"filter":"datum.kind == 'head'"}],"mark":"rule","encoding":{"y":{"datum":-0.68,"type":"quantitative","scale":{"domain":[-3.2,18.6],"reverse":true,"nice":false,"zero":false},"axis":null}}}]},
{"width":36,"height":255.3,"data":{"name":"B"},"encoding":{"y":{"field":"row","type":"quantitative","scale":{"domain":[-3.2,18.6],"reverse":true,"nice":false,"zero":false},"axis":null}},"layer":[
 {"transform":[{"filter":"isValid(datum.me) && datum.kind != 'group'"}],"mark":{"type":"text","style":"nb","align":"right","fontWeight":{"expr":"datum.kind == 'study' || datum.kind == 'note' ? 'normal' : 'bold'"}},"encoding":{"x":{"datum":"r","type":"nominal","scale":{"type":"point","domain":["l","c","r"],"padding":0},"axis":null},"text":{"field":"me","type":"nominal"}}},
 {"transform":[{"filter":"datum.kind == 'head'"}],"mark":"rule","encoding":{"y":{"datum":-0.68,"type":"quantitative","scale":{"domain":[-3.2,18.6],"reverse":true,"nice":false,"zero":false},"axis":null}}}]},
{"width":40,"height":255.3,"data":{"name":"B"},"encoding":{"y":{"field":"row","type":"quantitative","scale":{"domain":[-3.2,18.6],"reverse":true,"nice":false,"zero":false},"axis":null}},"layer":[
 {"transform":[{"filter":"isValid(datum.sde) && datum.kind != 'group'"}],"mark":{"type":"text","style":"nb","align":"right","fontWeight":{"expr":"datum.kind == 'study' || datum.kind == 'note' ? 'normal' : 'bold'"}},"encoding":{"x":{"datum":"r","type":"nominal","scale":{"type":"point","domain":["l","c","r"],"padding":0},"axis":null},"text":{"field":"sde","type":"nominal"}}},
 {"transform":[{"filter":"datum.kind == 'group'"}],"mark":{"type":"text","style":"nb","align":"center","fontWeight":"bold"},"encoding":{"x":{"datum":"c","type":"nominal","scale":{"type":"point","domain":["l","c","r"],"padding":0},"axis":null},"text":{"field":"sde","type":"nominal"}}},
 {"transform":[{"filter":"datum.kind == 'head'"}],"mark":"rule","encoding":{"y":{"datum":-0.68,"type":"quantitative","scale":{"domain":[-3.2,18.6],"reverse":true,"nice":false,"zero":false},"axis":null}}}]},
{"width":23,"height":255.3,"data":{"name":"B"},"encoding":{"y":{"field":"row","type":"quantitative","scale":{"domain":[-3.2,18.6],"reverse":true,"nice":false,"zero":false},"axis":null}},"layer":[
 {"transform":[{"filter":"isValid(datum.ne) && datum.kind != 'group'"}],"mark":{"type":"text","style":"nb","align":"right","fontWeight":{"expr":"datum.kind == 'study' || datum.kind == 'note' ? 'normal' : 'bold'"}},"encoding":{"x":{"datum":"r","type":"nominal","scale":{"type":"point","domain":["l","c","r"],"padding":0},"axis":null},"text":{"field":"ne","type":"nominal"}}},
 {"transform":[{"filter":"datum.kind == 'head'"}],"mark":"rule","encoding":{"y":{"datum":-0.68,"type":"quantitative","scale":{"domain":[-3.2,18.6],"reverse":true,"nice":false,"zero":false},"axis":null}}}]},
{"width":36,"height":255.3,"data":{"name":"B"},"encoding":{"y":{"field":"row","type":"quantitative","scale":{"domain":[-3.2,18.6],"reverse":true,"nice":false,"zero":false},"axis":null}},"layer":[
 {"transform":[{"filter":"isValid(datum.mc) && datum.kind != 'group'"}],"mark":{"type":"text","style":"nb","align":"right","fontWeight":{"expr":"datum.kind == 'study' || datum.kind == 'note' ? 'normal' : 'bold'"}},"encoding":{"x":{"datum":"r","type":"nominal","scale":{"type":"point","domain":["l","c","r"],"padding":0},"axis":null},"text":{"field":"mc","type":"nominal"}}},
 {"transform":[{"filter":"datum.kind == 'head'"}],"mark":"rule","encoding":{"y":{"datum":-0.68,"type":"quantitative","scale":{"domain":[-3.2,18.6],"reverse":true,"nice":false,"zero":false},"axis":null}}}]},
{"width":56,"height":255.3,"data":{"name":"B"},"encoding":{"y":{"field":"row","type":"quantitative","scale":{"domain":[-3.2,18.6],"reverse":true,"nice":false,"zero":false},"axis":null}},"layer":[
 {"transform":[{"filter":"isValid(datum.sdc) && datum.kind != 'group'"}],"mark":{"type":"text","style":"nb","align":"right","fontWeight":{"expr":"datum.kind == 'study' || datum.kind == 'note' ? 'normal' : 'bold'"}},"encoding":{"x":{"datum":"r","type":"nominal","scale":{"type":"point","domain":["l","c","r"],"padding":0},"axis":null},"text":{"field":"sdc","type":"nominal"}}},
 {"transform":[{"filter":"datum.kind == 'group'"}],"mark":{"type":"text","style":"nb","align":"center","fontWeight":"bold"},"encoding":{"x":{"datum":"c","type":"nominal","scale":{"type":"point","domain":["l","c","r"],"padding":0},"axis":null},"text":{"field":"sdc","type":"nominal"}}},
 {"transform":[{"filter":"datum.kind == 'head'"}],"mark":"rule","encoding":{"y":{"datum":-0.68,"type":"quantitative","scale":{"domain":[-3.2,18.6],"reverse":true,"nice":false,"zero":false},"axis":null}}}]},
{"width":29,"height":255.3,"data":{"name":"B"},"encoding":{"y":{"field":"row","type":"quantitative","scale":{"domain":[-3.2,18.6],"reverse":true,"nice":false,"zero":false},"axis":null}},"layer":[
 {"transform":[{"filter":"isValid(datum.nc) && datum.kind != 'group'"}],"mark":{"type":"text","style":"nb","align":"right","fontWeight":{"expr":"datum.kind == 'study' || datum.kind == 'note' ? 'normal' : 'bold'"}},"encoding":{"x":{"datum":"r","type":"nominal","scale":{"type":"point","domain":["l","c","r"],"padding":0},"axis":null},"text":{"field":"nc","type":"nominal"}}},
 {"transform":[{"filter":"datum.kind == 'head'"}],"mark":"rule","encoding":{"y":{"datum":-0.68,"type":"quantitative","scale":{"domain":[-3.2,18.6],"reverse":true,"nice":false,"zero":false},"axis":null}}}]},
{"width":37,"height":255.3,"data":{"name":"B"},"encoding":{"y":{"field":"row","type":"quantitative","scale":{"domain":[-3.2,18.6],"reverse":true,"nice":false,"zero":false},"axis":null}},"layer":[
 {"transform":[{"filter":"(datum.kind == 'study' || datum.kind == 'total') && isValid(datum.w)"}],"mark":{"type":"text","style":"nb","align":"right","fontWeight":{"expr":"datum.kind == 'study' || datum.kind == 'note' ? 'normal' : 'bold'"}},"encoding":{"x":{"datum":"r","type":"nominal","scale":{"type":"point","domain":["l","c","r"],"padding":0},"axis":null},"text":{"field":"w","type":"quantitative","format":".1%"}}},
 {"transform":[{"filter":"datum.kind == 'head'"}],"mark":{"type":"text","style":"nb","align":"right","fontWeight":"bold"},"encoding":{"x":{"datum":"r","type":"nominal","scale":{"type":"point","domain":["l","c","r"],"padding":0},"axis":null},"text":{"field":"w","type":"nominal"}}},
 {"transform":[{"filter":"datum.kind == 'head'"}],"mark":"rule","encoding":{"y":{"datum":-0.68,"type":"quantitative","scale":{"domain":[-3.2,18.6],"reverse":true,"nice":false,"zero":false},"axis":null}}}]},
{"width":94,"height":255.3,"data":{"name":"B"},"encoding":{"y":{"field":"row","type":"quantitative","scale":{"domain":[-3.2,18.6],"reverse":true,"nice":false,"zero":false},"axis":null}},"layer":[
 {"transform":[{"filter":"isValid(datum.ci) && datum.kind != 'group'"}],"mark":{"type":"text","style":"nb","align":"right","fontWeight":{"expr":"datum.kind == 'study' || datum.kind == 'note' ? 'normal' : 'bold'"}},"encoding":{"x":{"datum":"r","type":"nominal","scale":{"type":"point","domain":["l","c","r"],"padding":0},"axis":null},"text":{"field":"ci","type":"nominal"}}},
 {"transform":[{"filter":"datum.kind == 'group'"}],"mark":{"type":"text","style":"nb","align":"center","fontWeight":"bold"},"encoding":{"x":{"datum":"c","type":"nominal","scale":{"type":"point","domain":["l","c","r"],"padding":0},"axis":null},"text":{"field":"ci","type":"nominal"}}},
 {"transform":[{"filter":"datum.kind == 'head'"}],"mark":"rule","encoding":{"y":{"datum":-0.68,"type":"quantitative","scale":{"domain":[-3.2,18.6],"reverse":true,"nice":false,"zero":false},"axis":null}}}]},
{"width":7,"height":255.3,"data":{"name":"one"},"mark":"rule","encoding":{"y":{"datum":-0.68,"type":"quantitative","scale":{"domain":[-3.2,18.6],"reverse":true,"nice":false,"zero":false},"axis":null}}},
{"width":225,"height":234.2,"data":{"name":"B"},"encoding":{"y":{"field":"row","type":"quantitative","scale":{"domain":[-3.2,16.8],"reverse":true,"nice":false,"zero":false},"axis":null}},"layer":[
 {"transform":[{"filter":"datum.kind == 'study' && isValid(datum.lo)"}],"mark":{"type":"rule","color":"#555"},"encoding":{"x":{"field":"lo","type":"quantitative","scale":{"domain":[-10,10],"clamp":true,"nice":false,"zero":false},"axis":{"values":[-10,-5,0,5,10],"title":null}},"x2":{"field":"hi"}}},
 {"transform":[{"filter":"datum.kind == 'study' && isValid(datum.est) && datum.est <= 10"}],"mark":{"type":"point","shape":"square","filled":true,"opacity":1,"color":"#22c322","strokeWidth":0},"encoding":{"x":{"field":"est","type":"quantitative","scale":{"domain":[-10,10],"clamp":true,"nice":false,"zero":false},"axis":{"values":[-10,-5,0,5,10],"title":null}},"size":{"field":"w","type":"quantitative","scale":{"domain":[0,0.2],"range":[0,40]},"legend":null}}},
 {"transform":[{"filter":"datum.kind == 'study' && datum.hi > 10"}],"mark":{"type":"point","shape":"triangle-right","filled":true,"opacity":1,"color":"#222","size":20,"strokeWidth":0},"encoding":{"x":{"field":"hi","type":"quantitative","scale":{"domain":[-10,10],"clamp":true,"nice":false,"zero":false},"axis":{"values":[-10,-5,0,5,10],"title":null}}}},
 {"transform":[{"filter":"datum.kind == 'total'"}],"mark":{"type":"point","shape":"M0,-1L1.24,0L0,1L-1.24,0Z","filled":true,"opacity":1,"color":"#000","size":100,"strokeWidth":0},"encoding":{"x":{"field":"est","type":"quantitative","scale":{"domain":[-10,10],"clamp":true,"nice":false,"zero":false},"axis":{"values":[-10,-5,0,5,10],"title":null}}}},
 {"transform":[{"filter":"datum.kind == 'head'"}],"mark":{"type":"rule","color":"#555"},"encoding":{"x":{"datum":0,"type":"quantitative","scale":{"domain":[-10,10],"clamp":true,"nice":false,"zero":false},"axis":{"values":[-10,-5,0,5,10],"title":null}},"y":{"datum":-0.68,"type":"quantitative","scale":{"domain":[-3.2,16.8],"reverse":true,"nice":false,"zero":false},"axis":null},"y2":{"datum":16.8}}},
 {"transform":[{"filter":"datum.kind == 'head'"}],"mark":"rule","encoding":{"y":{"datum":-0.68,"type":"quantitative","scale":{"domain":[-3.2,16.8],"reverse":true,"nice":false,"zero":false},"axis":null}}},
 {"transform":[{"filter":"isValid(datum.forest)"}],"mark":{"type":"text","style":"nb","align":"center","fontWeight":"bold"},"encoding":{"x":{"datum":0,"type":"quantitative","scale":{"domain":[-10,10],"clamp":true,"nice":false,"zero":false},"axis":{"values":[-10,-5,0,5,10],"title":null}},"text":{"field":"forest","type":"nominal"}}},
 {"transform":[{"filter":"datum.kind == 'head'"}],"mark":{"type":"text","style":"nb","align":"right","text":"Favours [experimental]\u00a0"},"encoding":{"x":{"datum":0,"type":"quantitative","scale":{"domain":[-10,10],"clamp":true,"nice":false,"zero":false},"axis":{"values":[-10,-5,0,5,10],"title":null}},"y":{"datum":18.45,"type":"quantitative","scale":{"domain":[-3.2,16.8],"reverse":true,"nice":false,"zero":false},"axis":null}}},
 {"transform":[{"filter":"datum.kind == 'head'"}],"mark":{"type":"text","style":"nb","align":"left","text":"\u00a0\u00a0Favours [control]"},"encoding":{"x":{"datum":0,"type":"quantitative","scale":{"domain":[-10,10],"clamp":true,"nice":false,"zero":false},"axis":{"values":[-10,-5,0,5,10],"title":null}},"y":{"datum":18.45,"type":"quantitative","scale":{"domain":[-3.2,16.8],"reverse":true,"nice":false,"zero":false},"axis":null}}}]},
{"width":9,"height":255.3,"data":{"name":"one"},"mark":"rule","encoding":{"y":{"datum":-0.68,"type":"quantitative","scale":{"domain":[-3.2,18.6],"reverse":true,"nice":false,"zero":false},"axis":null}}}
]},
{"bounds":"flush","spacing":0,"hconcat":[
{"width":43,"height":242.55,"data":{"name":"C"},"transform":[{"filter":"isValid(datum.lab)"}],"mark":{"type":"text","align":"left","font":"Liberation Serif","fontSize":16,"fontWeight":"bold","color":"#000"},"encoding":{"x":{"datum":"l","type":"nominal","scale":{"type":"point","domain":["l","c","r"],"padding":0},"axis":null},"y":{"field":"row","type":"quantitative","scale":{"domain":[-3.2,16.6],"reverse":true,"nice":false,"zero":false},"axis":null},"text":{"field":"lab","type":"nominal"}}},
{"width":8,"height":242.55,"data":{"name":"one"},"mark":"rule","encoding":{"y":{"datum":-0.68,"type":"quantitative","scale":{"domain":[-3.2,16.6],"reverse":true,"nice":false,"zero":false},"axis":null}}},
{"width":97,"height":242.55,"data":{"name":"C"},"encoding":{"y":{"field":"row","type":"quantitative","scale":{"domain":[-3.2,16.6],"reverse":true,"nice":false,"zero":false},"axis":null}},"layer":[
 {"transform":[{"filter":"isValid(datum.study)"}],"mark":{"type":"text","align":"left","fontWeight":{"expr":"datum.kind == 'study' || datum.kind == 'note' ? 'normal' : 'bold'"}},"encoding":{"x":{"datum":"l","type":"nominal","scale":{"type":"point","domain":["l","c","r"],"padding":0},"axis":null},"text":{"field":"study","type":"nominal"}}},
 {"transform":[{"filter":"datum.kind == 'head'"}],"mark":"rule","encoding":{"y":{"datum":-0.68,"type":"quantitative","scale":{"domain":[-3.2,16.6],"reverse":true,"nice":false,"zero":false},"axis":null}}}]},
{"width":32,"height":242.55,"data":{"name":"C"},"encoding":{"y":{"field":"row","type":"quantitative","scale":{"domain":[-3.2,16.6],"reverse":true,"nice":false,"zero":false},"axis":null}},"layer":[
 {"transform":[{"filter":"isValid(datum.me) && datum.kind != 'group'"}],"mark":{"type":"text","align":"right","fontWeight":{"expr":"datum.kind == 'study' || datum.kind == 'note' ? 'normal' : 'bold'"}},"encoding":{"x":{"datum":"r","type":"nominal","scale":{"type":"point","domain":["l","c","r"],"padding":0},"axis":null},"text":{"field":"me","type":"nominal"}}},
 {"transform":[{"filter":"datum.kind == 'head'"}],"mark":"rule","encoding":{"y":{"datum":-0.68,"type":"quantitative","scale":{"domain":[-3.2,16.6],"reverse":true,"nice":false,"zero":false},"axis":null}}}]},
{"width":36,"height":242.55,"data":{"name":"C"},"encoding":{"y":{"field":"row","type":"quantitative","scale":{"domain":[-3.2,16.6],"reverse":true,"nice":false,"zero":false},"axis":null}},"layer":[
 {"transform":[{"filter":"isValid(datum.sde) && datum.kind != 'group'"}],"mark":{"type":"text","align":"right","fontWeight":{"expr":"datum.kind == 'study' || datum.kind == 'note' ? 'normal' : 'bold'"}},"encoding":{"x":{"datum":"r","type":"nominal","scale":{"type":"point","domain":["l","c","r"],"padding":0},"axis":null},"text":{"field":"sde","type":"nominal"}}},
 {"transform":[{"filter":"datum.kind == 'group'"}],"mark":{"type":"text","align":"center","fontWeight":"bold"},"encoding":{"x":{"datum":"c","type":"nominal","scale":{"type":"point","domain":["l","c","r"],"padding":0},"axis":null},"text":{"field":"sde","type":"nominal"}}},
 {"transform":[{"filter":"datum.kind == 'head'"}],"mark":"rule","encoding":{"y":{"datum":-0.68,"type":"quantitative","scale":{"domain":[-3.2,16.6],"reverse":true,"nice":false,"zero":false},"axis":null}}}]},
{"width":25,"height":242.55,"data":{"name":"C"},"encoding":{"y":{"field":"row","type":"quantitative","scale":{"domain":[-3.2,16.6],"reverse":true,"nice":false,"zero":false},"axis":null}},"layer":[
 {"transform":[{"filter":"isValid(datum.ne) && datum.kind != 'group'"}],"mark":{"type":"text","align":"right","fontWeight":{"expr":"datum.kind == 'study' || datum.kind == 'note' ? 'normal' : 'bold'"}},"encoding":{"x":{"datum":"r","type":"nominal","scale":{"type":"point","domain":["l","c","r"],"padding":0},"axis":null},"text":{"field":"ne","type":"nominal"}}},
 {"transform":[{"filter":"datum.kind == 'head'"}],"mark":"rule","encoding":{"y":{"datum":-0.68,"type":"quantitative","scale":{"domain":[-3.2,16.6],"reverse":true,"nice":false,"zero":false},"axis":null}}}]},
{"width":31,"height":242.55,"data":{"name":"C"},"encoding":{"y":{"field":"row","type":"quantitative","scale":{"domain":[-3.2,16.6],"reverse":true,"nice":false,"zero":false},"axis":null}},"layer":[
 {"transform":[{"filter":"isValid(datum.mc) && datum.kind != 'group'"}],"mark":{"type":"text","align":"right","fontWeight":{"expr":"datum.kind == 'study' || datum.kind == 'note' ? 'normal' : 'bold'"}},"encoding":{"x":{"datum":"r","type":"nominal","scale":{"type":"point","domain":["l","c","r"],"padding":0},"axis":null},"text":{"field":"mc","type":"nominal"}}},
 {"transform":[{"filter":"datum.kind == 'head'"}],"mark":"rule","encoding":{"y":{"datum":-0.68,"type":"quantitative","scale":{"domain":[-3.2,16.6],"reverse":true,"nice":false,"zero":false},"axis":null}}}]},
{"width":41,"height":242.55,"data":{"name":"C"},"encoding":{"y":{"field":"row","type":"quantitative","scale":{"domain":[-3.2,16.6],"reverse":true,"nice":false,"zero":false},"axis":null}},"layer":[
 {"transform":[{"filter":"isValid(datum.sdc) && datum.kind != 'group'"}],"mark":{"type":"text","align":"right","fontWeight":{"expr":"datum.kind == 'study' || datum.kind == 'note' ? 'normal' : 'bold'"}},"encoding":{"x":{"datum":"r","type":"nominal","scale":{"type":"point","domain":["l","c","r"],"padding":0},"axis":null},"text":{"field":"sdc","type":"nominal"}}},
 {"transform":[{"filter":"datum.kind == 'group'"}],"mark":{"type":"text","align":"center","fontWeight":"bold"},"encoding":{"x":{"datum":"c","type":"nominal","scale":{"type":"point","domain":["l","c","r"],"padding":0},"axis":null},"text":{"field":"sdc","type":"nominal"}}},
 {"transform":[{"filter":"datum.kind == 'head'"}],"mark":"rule","encoding":{"y":{"datum":-0.68,"type":"quantitative","scale":{"domain":[-3.2,16.6],"reverse":true,"nice":false,"zero":false},"axis":null}}}]},
{"width":28,"height":242.55,"data":{"name":"C"},"encoding":{"y":{"field":"row","type":"quantitative","scale":{"domain":[-3.2,16.6],"reverse":true,"nice":false,"zero":false},"axis":null}},"layer":[
 {"transform":[{"filter":"isValid(datum.nc) && datum.kind != 'group'"}],"mark":{"type":"text","align":"right","fontWeight":{"expr":"datum.kind == 'study' || datum.kind == 'note' ? 'normal' : 'bold'"}},"encoding":{"x":{"datum":"r","type":"nominal","scale":{"type":"point","domain":["l","c","r"],"padding":0},"axis":null},"text":{"field":"nc","type":"nominal"}}},
 {"transform":[{"filter":"datum.kind == 'head'"}],"mark":"rule","encoding":{"y":{"datum":-0.68,"type":"quantitative","scale":{"domain":[-3.2,16.6],"reverse":true,"nice":false,"zero":false},"axis":null}}}]},
{"width":40,"height":242.55,"data":{"name":"C"},"encoding":{"y":{"field":"row","type":"quantitative","scale":{"domain":[-3.2,16.6],"reverse":true,"nice":false,"zero":false},"axis":null}},"layer":[
 {"transform":[{"filter":"(datum.kind == 'study' || datum.kind == 'total') && isValid(datum.w)"}],"mark":{"type":"text","align":"right","fontWeight":{"expr":"datum.kind == 'study' || datum.kind == 'note' ? 'normal' : 'bold'"}},"encoding":{"x":{"datum":"r","type":"nominal","scale":{"type":"point","domain":["l","c","r"],"padding":0},"axis":null},"text":{"field":"w","type":"quantitative","format":".1%"}}},
 {"transform":[{"filter":"datum.kind == 'head'"}],"mark":{"type":"text","align":"right","fontWeight":"bold"},"encoding":{"x":{"datum":"r","type":"nominal","scale":{"type":"point","domain":["l","c","r"],"padding":0},"axis":null},"text":{"field":"w","type":"nominal"}}},
 {"transform":[{"filter":"datum.kind == 'head'"}],"mark":"rule","encoding":{"y":{"datum":-0.68,"type":"quantitative","scale":{"domain":[-3.2,16.6],"reverse":true,"nice":false,"zero":false},"axis":null}}}]},
{"width":100,"height":242.55,"data":{"name":"C"},"encoding":{"y":{"field":"row","type":"quantitative","scale":{"domain":[-3.2,16.6],"reverse":true,"nice":false,"zero":false},"axis":null}},"layer":[
 {"transform":[{"filter":"isValid(datum.ci) && datum.kind != 'group'"}],"mark":{"type":"text","align":"right","fontWeight":{"expr":"datum.kind == 'study' || datum.kind == 'note' ? 'normal' : 'bold'"}},"encoding":{"x":{"datum":"r","type":"nominal","scale":{"type":"point","domain":["l","c","r"],"padding":0},"axis":null},"text":{"field":"ci","type":"nominal"}}},
 {"transform":[{"filter":"datum.kind == 'group'"}],"mark":{"type":"text","align":"center","fontWeight":"bold"},"encoding":{"x":{"datum":"c","type":"nominal","scale":{"type":"point","domain":["l","c","r"],"padding":0},"axis":null},"text":{"field":"ci","type":"nominal"}}},
 {"transform":[{"filter":"datum.kind == 'head'"}],"mark":"rule","encoding":{"y":{"datum":-0.68,"type":"quantitative","scale":{"domain":[-3.2,16.6],"reverse":true,"nice":false,"zero":false},"axis":null}}}]},
{"width":34,"height":242.55,"data":{"name":"one"},"mark":"rule","encoding":{"y":{"datum":-0.68,"type":"quantitative","scale":{"domain":[-3.2,16.6],"reverse":true,"nice":false,"zero":false},"axis":null}}},
{"width":217.9,"height":220.5,"data":{"name":"C"},"encoding":{"y":{"field":"row","type":"quantitative","scale":{"domain":[-3.2,14.8],"reverse":true,"nice":false,"zero":false},"axis":null}},"layer":[
 {"transform":[{"filter":"datum.kind == 'study' && isValid(datum.lo)"}],"mark":{"type":"rule","color":"#555"},"encoding":{"x":{"field":"lo","type":"quantitative","scale":{"domain":[-13.4,18],"clamp":true,"nice":false,"zero":false},"axis":{"values":[-10,-5,0,5,10],"title":null}},"x2":{"field":"hi"}}},
 {"transform":[{"filter":"datum.kind == 'study' && isValid(datum.est)"}],"mark":{"type":"point","shape":"square","filled":true,"opacity":1,"color":"#22c322","strokeWidth":0},"encoding":{"x":{"field":"est","type":"quantitative","scale":{"domain":[-13.4,18],"clamp":true,"nice":false,"zero":false},"axis":{"values":[-10,-5,0,5,10],"title":null}},"size":{"field":"w","type":"quantitative","scale":{"domain":[0,0.2],"range":[0,40]},"legend":null}}},
 {"transform":[{"filter":"datum.kind == 'total'"}],"mark":{"type":"point","shape":"M0,-1L1.32,0L0,1L-1.32,0Z","filled":true,"opacity":1,"color":"#000","size":100,"strokeWidth":0},"encoding":{"x":{"field":"est","type":"quantitative","scale":{"domain":[-13.4,18],"clamp":true,"nice":false,"zero":false},"axis":{"values":[-10,-5,0,5,10],"title":null}}}},
 {"transform":[{"filter":"datum.kind == 'head'"}],"mark":{"type":"rule","color":"#555"},"encoding":{"x":{"datum":0,"type":"quantitative","scale":{"domain":[-13.4,18],"clamp":true,"nice":false,"zero":false},"axis":{"values":[-10,-5,0,5,10],"title":null}},"y":{"datum":-0.68,"type":"quantitative","scale":{"domain":[-3.2,14.8],"reverse":true,"nice":false,"zero":false},"axis":null},"y2":{"datum":14.8}}},
 {"transform":[{"filter":"datum.kind == 'head'"}],"mark":"rule","encoding":{"y":{"datum":-0.68,"type":"quantitative","scale":{"domain":[-3.2,14.8],"reverse":true,"nice":false,"zero":false},"axis":null}}},
 {"transform":[{"filter":"isValid(datum.forest)"}],"mark":{"type":"text","align":"center","fontWeight":"bold"},"encoding":{"x":{"datum":0,"type":"quantitative","scale":{"domain":[-13.4,18],"clamp":true,"nice":false,"zero":false},"axis":{"values":[-10,-5,0,5,10],"title":null}},"text":{"field":"forest","type":"nominal"}}},
 {"transform":[{"filter":"datum.kind == 'head'"}],"mark":{"type":"text","align":"right","text":"Favours [experimental]\u00a0"},"encoding":{"x":{"datum":0,"type":"quantitative","scale":{"domain":[-13.4,18],"clamp":true,"nice":false,"zero":false},"axis":{"values":[-10,-5,0,5,10],"title":null}},"y":{"datum":16.5,"type":"quantitative","scale":{"domain":[-3.2,14.8],"reverse":true,"nice":false,"zero":false},"axis":null}}},
 {"transform":[{"filter":"datum.kind == 'head'"}],"mark":{"type":"text","align":"left","text":"\u00a0\u00a0Favours [control]"},"encoding":{"x":{"datum":0,"type":"quantitative","scale":{"domain":[-13.4,18],"clamp":true,"nice":false,"zero":false},"axis":{"values":[-10,-5,0,5,10],"title":null}},"y":{"datum":16.5,"type":"quantitative","scale":{"domain":[-3.2,14.8],"reverse":true,"nice":false,"zero":false},"axis":null}}}]},
{"width":3,"height":242.55,"data":{"name":"one"},"mark":"rule","encoding":{"y":{"datum":-0.68,"type":"quantitative","scale":{"domain":[-3.2,16.6],"reverse":true,"nice":false,"zero":false},"axis":null}}}
]},
{"bounds":"flush","spacing":0,"hconcat":[
{"width":48,"height":169.7,"data":{"name":"D"},"transform":[{"filter":"isValid(datum.lab)"}],"mark":{"type":"text","align":"left","font":"Liberation Serif","fontSize":16,"fontWeight":"bold","color":"#000"},"encoding":{"x":{"datum":"l","type":"nominal","scale":{"type":"point","domain":["l","c","r"],"padding":0},"axis":null},"y":{"field":"row","type":"quantitative","scale":{"domain":[-3.2,10.6],"reverse":true,"nice":false,"zero":false},"axis":null},"text":{"field":"lab","type":"nominal"}}},
{"width":8,"height":169.7,"data":{"name":"one"},"mark":"rule","encoding":{"y":{"datum":-0.68,"type":"quantitative","scale":{"domain":[-3.2,10.6],"reverse":true,"nice":false,"zero":false},"axis":null}}},
{"width":87,"height":169.7,"data":{"name":"D"},"encoding":{"y":{"field":"row","type":"quantitative","scale":{"domain":[-3.2,10.6],"reverse":true,"nice":false,"zero":false},"axis":null}},"layer":[
 {"transform":[{"filter":"isValid(datum.study)"}],"mark":{"type":"text","align":"left","fontWeight":{"expr":"datum.kind == 'study' || datum.kind == 'note' ? 'normal' : 'bold'"}},"encoding":{"x":{"datum":"l","type":"nominal","scale":{"type":"point","domain":["l","c","r"],"padding":0},"axis":null},"text":{"field":"study","type":"nominal"}}},
 {"transform":[{"filter":"datum.kind == 'head'"}],"mark":"rule","encoding":{"y":{"datum":-0.68,"type":"quantitative","scale":{"domain":[-3.2,10.6],"reverse":true,"nice":false,"zero":false},"axis":null}}}]},
{"width":35,"height":169.7,"data":{"name":"D"},"encoding":{"y":{"field":"row","type":"quantitative","scale":{"domain":[-3.2,10.6],"reverse":true,"nice":false,"zero":false},"axis":null}},"layer":[
 {"transform":[{"filter":"isValid(datum.me) && datum.kind != 'group'"}],"mark":{"type":"text","align":"right","fontWeight":{"expr":"datum.kind == 'study' || datum.kind == 'note' ? 'normal' : 'bold'"}},"encoding":{"x":{"datum":"r","type":"nominal","scale":{"type":"point","domain":["l","c","r"],"padding":0},"axis":null},"text":{"field":"me","type":"nominal"}}},
 {"transform":[{"filter":"datum.kind == 'head'"}],"mark":"rule","encoding":{"y":{"datum":-0.68,"type":"quantitative","scale":{"domain":[-3.2,10.6],"reverse":true,"nice":false,"zero":false},"axis":null}}}]},
{"width":34,"height":169.7,"data":{"name":"D"},"encoding":{"y":{"field":"row","type":"quantitative","scale":{"domain":[-3.2,10.6],"reverse":true,"nice":false,"zero":false},"axis":null}},"layer":[
 {"transform":[{"filter":"isValid(datum.sde) && datum.kind != 'group'"}],"mark":{"type":"text","align":"right","fontWeight":{"expr":"datum.kind == 'study' || datum.kind == 'note' ? 'normal' : 'bold'"}},"encoding":{"x":{"datum":"r","type":"nominal","scale":{"type":"point","domain":["l","c","r"],"padding":0},"axis":null},"text":{"field":"sde","type":"nominal"}}},
 {"transform":[{"filter":"datum.kind == 'group'"}],"mark":{"type":"text","align":"center","fontWeight":"bold"},"encoding":{"x":{"datum":"c","type":"nominal","scale":{"type":"point","domain":["l","c","r"],"padding":0},"axis":null},"text":{"field":"sde","type":"nominal"}}},
 {"transform":[{"filter":"datum.kind == 'head'"}],"mark":"rule","encoding":{"y":{"datum":-0.68,"type":"quantitative","scale":{"domain":[-3.2,10.6],"reverse":true,"nice":false,"zero":false},"axis":null}}}]},
{"width":25,"height":169.7,"data":{"name":"D"},"encoding":{"y":{"field":"row","type":"quantitative","scale":{"domain":[-3.2,10.6],"reverse":true,"nice":false,"zero":false},"axis":null}},"layer":[
 {"transform":[{"filter":"isValid(datum.ne) && datum.kind != 'group'"}],"mark":{"type":"text","align":"right","fontWeight":{"expr":"datum.kind == 'study' || datum.kind == 'note' ? 'normal' : 'bold'"}},"encoding":{"x":{"datum":"r","type":"nominal","scale":{"type":"point","domain":["l","c","r"],"padding":0},"axis":null},"text":{"field":"ne","type":"nominal"}}},
 {"transform":[{"filter":"datum.kind == 'head'"}],"mark":"rule","encoding":{"y":{"datum":-0.68,"type":"quantitative","scale":{"domain":[-3.2,10.6],"reverse":true,"nice":false,"zero":false},"axis":null}}}]},
{"width":37,"height":169.7,"data":{"name":"D"},"encoding":{"y":{"field":"row","type":"quantitative","scale":{"domain":[-3.2,10.6],"reverse":true,"nice":false,"zero":false},"axis":null}},"layer":[
 {"transform":[{"filter":"isValid(datum.mc) && datum.kind != 'group'"}],"mark":{"type":"text","align":"right","fontWeight":{"expr":"datum.kind == 'study' || datum.kind == 'note' ? 'normal' : 'bold'"}},"encoding":{"x":{"datum":"r","type":"nominal","scale":{"type":"point","domain":["l","c","r"],"padding":0},"axis":null},"text":{"field":"mc","type":"nominal"}}},
 {"transform":[{"filter":"datum.kind == 'head'"}],"mark":"rule","encoding":{"y":{"datum":-0.68,"type":"quantitative","scale":{"domain":[-3.2,10.6],"reverse":true,"nice":false,"zero":false},"axis":null}}}]},
{"width":33,"height":169.7,"data":{"name":"D"},"encoding":{"y":{"field":"row","type":"quantitative","scale":{"domain":[-3.2,10.6],"reverse":true,"nice":false,"zero":false},"axis":null}},"layer":[
 {"transform":[{"filter":"isValid(datum.sdc) && datum.kind != 'group'"}],"mark":{"type":"text","align":"right","fontWeight":{"expr":"datum.kind == 'study' || datum.kind == 'note' ? 'normal' : 'bold'"}},"encoding":{"x":{"datum":"r","type":"nominal","scale":{"type":"point","domain":["l","c","r"],"padding":0},"axis":null},"text":{"field":"sdc","type":"nominal"}}},
 {"transform":[{"filter":"datum.kind == 'group'"}],"mark":{"type":"text","align":"center","fontWeight":"bold"},"encoding":{"x":{"datum":"c","type":"nominal","scale":{"type":"point","domain":["l","c","r"],"padding":0},"axis":null},"text":{"field":"sdc","type":"nominal"}}},
 {"transform":[{"filter":"datum.kind == 'head'"}],"mark":"rule","encoding":{"y":{"datum":-0.68,"type":"quantitative","scale":{"domain":[-3.2,10.6],"reverse":true,"nice":false,"zero":false},"axis":null}}}]},
{"width":27,"height":169.7,"data":{"name":"D"},"encoding":{"y":{"field":"row","type":"quantitative","scale":{"domain":[-3.2,10.6],"reverse":true,"nice":false,"zero":false},"axis":null}},"layer":[
 {"transform":[{"filter":"isValid(datum.nc) && datum.kind != 'group'"}],"mark":{"type":"text","align":"right","fontWeight":{"expr":"datum.kind == 'study' || datum.kind == 'note' ? 'normal' : 'bold'"}},"encoding":{"x":{"datum":"r","type":"nominal","scale":{"type":"point","domain":["l","c","r"],"padding":0},"axis":null},"text":{"field":"nc","type":"nominal"}}},
 {"transform":[{"filter":"datum.kind == 'head'"}],"mark":"rule","encoding":{"y":{"datum":-0.68,"type":"quantitative","scale":{"domain":[-3.2,10.6],"reverse":true,"nice":false,"zero":false},"axis":null}}}]},
{"width":35,"height":169.7,"data":{"name":"D"},"encoding":{"y":{"field":"row","type":"quantitative","scale":{"domain":[-3.2,10.6],"reverse":true,"nice":false,"zero":false},"axis":null}},"layer":[
 {"transform":[{"filter":"(datum.kind == 'study' || datum.kind == 'total') && isValid(datum.w)"}],"mark":{"type":"text","align":"right","fontWeight":{"expr":"datum.kind == 'study' || datum.kind == 'note' ? 'normal' : 'bold'"}},"encoding":{"x":{"datum":"r","type":"nominal","scale":{"type":"point","domain":["l","c","r"],"padding":0},"axis":null},"text":{"field":"w","type":"quantitative","format":".1%"}}},
 {"transform":[{"filter":"datum.kind == 'head'"}],"mark":{"type":"text","align":"right","fontWeight":"bold"},"encoding":{"x":{"datum":"r","type":"nominal","scale":{"type":"point","domain":["l","c","r"],"padding":0},"axis":null},"text":{"field":"w","type":"nominal"}}},
 {"transform":[{"filter":"datum.kind == 'head'"}],"mark":"rule","encoding":{"y":{"datum":-0.68,"type":"quantitative","scale":{"domain":[-3.2,10.6],"reverse":true,"nice":false,"zero":false},"axis":null}}}]},
{"width":95,"height":169.7,"data":{"name":"D"},"encoding":{"y":{"field":"row","type":"quantitative","scale":{"domain":[-3.2,10.6],"reverse":true,"nice":false,"zero":false},"axis":null}},"layer":[
 {"transform":[{"filter":"isValid(datum.ci) && datum.kind != 'group'"}],"mark":{"type":"text","align":"right","fontWeight":{"expr":"datum.kind == 'study' || datum.kind == 'note' ? 'normal' : 'bold'"}},"encoding":{"x":{"datum":"r","type":"nominal","scale":{"type":"point","domain":["l","c","r"],"padding":0},"axis":null},"text":{"field":"ci","type":"nominal"}}},
 {"transform":[{"filter":"datum.kind == 'group'"}],"mark":{"type":"text","align":"center","fontWeight":"bold"},"encoding":{"x":{"datum":"c","type":"nominal","scale":{"type":"point","domain":["l","c","r"],"padding":0},"axis":null},"text":{"field":"ci","type":"nominal"}}},
 {"transform":[{"filter":"datum.kind == 'head'"}],"mark":"rule","encoding":{"y":{"datum":-0.68,"type":"quantitative","scale":{"domain":[-3.2,10.6],"reverse":true,"nice":false,"zero":false},"axis":null}}}]},
{"width":51,"height":169.7,"data":{"name":"one"},"mark":"rule","encoding":{"y":{"datum":-0.68,"type":"quantitative","scale":{"domain":[-3.2,10.6],"reverse":true,"nice":false,"zero":false},"axis":null}}},
{"width":217.9,"height":147.6,"data":{"name":"D"},"encoding":{"y":{"field":"row","type":"quantitative","scale":{"domain":[-3.2,8.8],"reverse":true,"nice":false,"zero":false},"axis":null}},"layer":[
 {"transform":[{"filter":"datum.kind == 'study' && isValid(datum.lo)"}],"mark":{"type":"rule","color":"#555"},"encoding":{"x":{"field":"lo","type":"quantitative","scale":{"domain":[-13.4,18],"clamp":true,"nice":false,"zero":false},"axis":{"values":[-10,-5,0,5,10],"title":null}},"x2":{"field":"hi"}}},
 {"transform":[{"filter":"datum.kind == 'study' && isValid(datum.est)"}],"mark":{"type":"point","shape":"square","filled":true,"opacity":1,"color":"#22c322","strokeWidth":0},"encoding":{"x":{"field":"est","type":"quantitative","scale":{"domain":[-13.4,18],"clamp":true,"nice":false,"zero":false},"axis":{"values":[-10,-5,0,5,10],"title":null}},"size":{"field":"w","type":"quantitative","scale":{"domain":[0,0.2],"range":[0,40]},"legend":null}}},
 {"transform":[{"filter":"datum.kind == 'total'"}],"mark":{"type":"point","shape":"M0,-1L1.58,0L0,1L-1.58,0Z","filled":true,"opacity":1,"color":"#000","size":100,"strokeWidth":0},"encoding":{"x":{"field":"est","type":"quantitative","scale":{"domain":[-13.4,18],"clamp":true,"nice":false,"zero":false},"axis":{"values":[-10,-5,0,5,10],"title":null}}}},
 {"transform":[{"filter":"datum.kind == 'head'"}],"mark":{"type":"rule","color":"#555"},"encoding":{"x":{"datum":0,"type":"quantitative","scale":{"domain":[-13.4,18],"clamp":true,"nice":false,"zero":false},"axis":{"values":[-10,-5,0,5,10],"title":null}},"y":{"datum":-0.68,"type":"quantitative","scale":{"domain":[-3.2,8.8],"reverse":true,"nice":false,"zero":false},"axis":null},"y2":{"datum":8.8}}},
 {"transform":[{"filter":"datum.kind == 'head'"}],"mark":"rule","encoding":{"y":{"datum":-0.68,"type":"quantitative","scale":{"domain":[-3.2,8.8],"reverse":true,"nice":false,"zero":false},"axis":null}}},
 {"transform":[{"filter":"isValid(datum.forest)"}],"mark":{"type":"text","align":"center","fontWeight":"bold"},"encoding":{"x":{"datum":0,"type":"quantitative","scale":{"domain":[-13.4,18],"clamp":true,"nice":false,"zero":false},"axis":{"values":[-10,-5,0,5,10],"title":null}},"text":{"field":"forest","type":"nominal"}}},
 {"transform":[{"filter":"datum.kind == 'head'"}],"mark":{"type":"text","align":"right","text":"Favours [experimental]\u00a0"},"encoding":{"x":{"datum":0,"type":"quantitative","scale":{"domain":[-13.4,18],"clamp":true,"nice":false,"zero":false},"axis":{"values":[-10,-5,0,5,10],"title":null}},"y":{"datum":10.5,"type":"quantitative","scale":{"domain":[-3.2,8.8],"reverse":true,"nice":false,"zero":false},"axis":null}}},
 {"transform":[{"filter":"datum.kind == 'head'"}],"mark":{"type":"text","align":"left","text":"\u00a0\u00a0Favours [control]"},"encoding":{"x":{"datum":0,"type":"quantitative","scale":{"domain":[-13.4,18],"clamp":true,"nice":false,"zero":false},"axis":{"values":[-10,-5,0,5,10],"title":null}},"y":{"datum":10.5,"type":"quantitative","scale":{"domain":[-3.2,8.8],"reverse":true,"nice":false,"zero":false},"axis":null}}}]},
{"width":3,"height":169.7,"data":{"name":"one"},"mark":"rule","encoding":{"y":{"datum":-0.68,"type":"quantitative","scale":{"domain":[-3.2,10.6],"reverse":true,"nice":false,"zero":false},"axis":null}}}
]}
],
"config": {
 "view": {"stroke": null},
 "text": {"font": "Liberation Sans", "fontSize": 9.4, "baseline": "middle", "color": "#1a1a1a"},
 "rule": {"color": "#444", "strokeWidth": 1},
 "axisX": {"grid": false, "tickSize": 4, "labelPadding": 0, "domainColor": "#555", "tickColor": "#555", "labelFontSize": 9.4, "labelFont": "Liberation Sans", "labelColor": "#222", "labelFlush": true},
 "style": {"nb": {"font": "Liberation Sans", "fontSize": 8.2}}
}
}
